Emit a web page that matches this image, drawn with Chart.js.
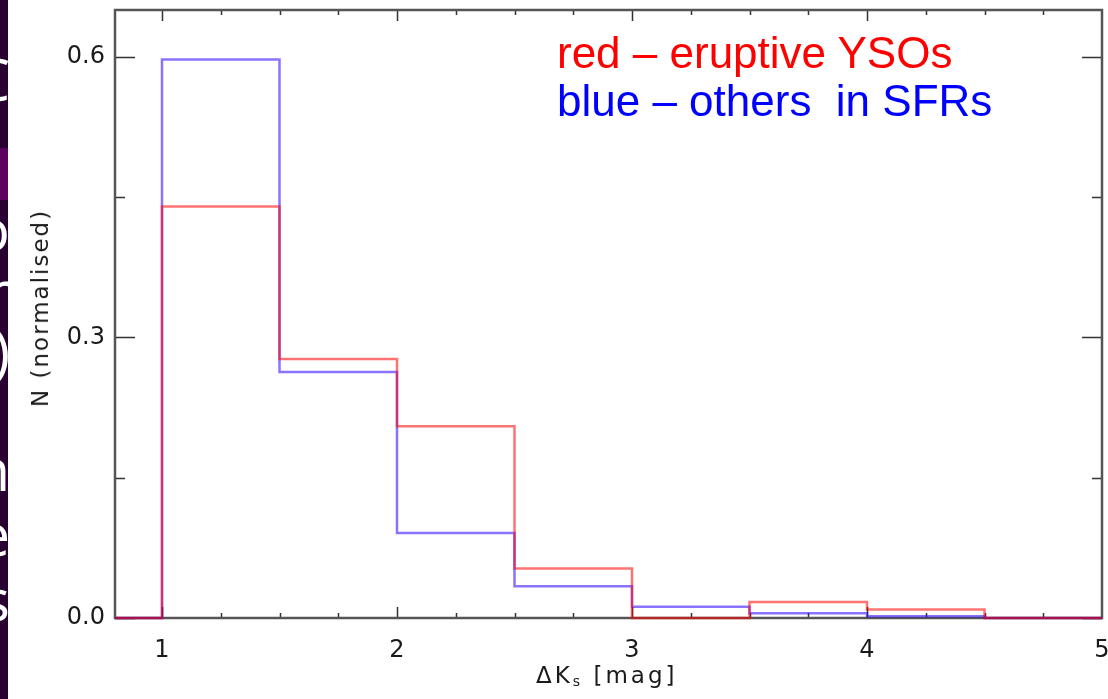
<!DOCTYPE html>
<html>
<head>
<meta charset="utf-8">
<script src="https://cdn.jsdelivr.net/npm/chart.js@4/dist/chart.umd.min.js"></script>
<style>
  body { margin: 0; background: #fff; }
  #wrap { position: relative; width: 1108px; height: 699px; overflow: hidden; }
  #strip { position: absolute; left: 0; top: 0; width: 8px; height: 699px; background: #2a0032; overflow: hidden; }
  #band { position: absolute; left: 0; top: 148px; width: 8px; height: 52px; background: #5e005f; }
  .frag { position: absolute; right: -2px; color: #fff; font-family: "Open Sans", sans-serif; font-size: 58px; line-height: 1; }
  .legend { position: absolute; left: 557px; font-family: "Liberation Sans", Arial, sans-serif; font-size: 44px; line-height: 48px; white-space: pre; }
  #xtitle { position: absolute; left: 536px; top: 662px; font-family: "DejaVu Sans", sans-serif; font-size: 23px; color: #1a1a1a; letter-spacing: 3px; white-space: pre; }
  #xtitle sub { font-size: 14px; vertical-align: -3px; }
  #ytitle { position: absolute; left: 40px; top: 308px; transform: translate(-50%, -50%) rotate(-90deg); font-family: "DejaVu Sans", sans-serif; font-size: 23px; color: #1a1a1a; letter-spacing: 2px; white-space: pre; }
</style>
</head>
<body>
<div id="wrap">
  <canvas id="histChart" width="1108" height="699"></canvas>
  <div id="strip">
    <div id="band"></div>
    <span class="frag" style="top:50px">C</span>
    <span class="frag" style="top:200px">o</span>
    <span class="frag" style="top:262px">r</span>
    <span class="frag" style="top:322px">)</span>
    <span class="frag" style="top:440px">n</span>
    <span class="frag" style="top:505px">e</span>
    <span class="frag" style="top:570px">s</span>
  </div>
  <div class="legend" style="top:29px; color:#ff0000">red – eruptive YSOs</div>
  <div class="legend" style="top:77px; color:#0000ff">blue – others  in SFRs</div>
  <div id="xtitle">ΔK<sub>s</sub> [mag]</div>
  <div id="ytitle">N (normalised)</div>
</div>
<script>
// bin left edges (the last entry closes the final bin)
const binEdges = [0.8, 1, 1.5, 2, 2.5, 3, 3.5, 4, 4.5, 5];
const eruptive = [0, 0.44, 0.277, 0.205, 0.053, 0, 0.017, 0.009, 0, 0];
const others = [0, 0.597, 0.263, 0.091, 0.034, 0.012, 0.005, 0.002, 0, 0];

const xTickLabels = [1, 2, 3, 4, 5];
const xMinorTicks = [1, 1.25, 1.5, 1.75, 2, 2.25, 2.5, 2.75, 3, 3.25, 3.5, 3.75, 4, 4.25, 4.5, 4.75];
const yTickLabels = [0, 0.3, 0.6];
const yMinorTicks = [0, 0.15, 0.3, 0.45, 0.6];

function toPoints(values) {
    return binEdges.map((x, i) => ({ x: x, y: values[i] }));
}

// no label overflow padding, the plot box is fixed by layout.padding
function noPadding(s) {
    s.paddingTop = 0;
    s.paddingBottom = 0;
    s.paddingLeft = 0;
    s.paddingRight = 0;
}

// IDL style box with inward ticks on all four sides
const framePlugin = {
    id: 'frame',
    beforeDatasetsDraw(chart) {
        const ctx = chart.ctx;
        const area = chart.chartArea;
        const xs = chart.scales.x;
        const ys = chart.scales.y;

        ctx.save();
        ctx.strokeStyle = '#333';
        ctx.lineWidth = 1.5;
        ctx.beginPath();
        xMinorTicks.forEach(v => {
            const px = Math.round(xs.getPixelForValue(v)) + 0.5;
            const len = xTickLabels.includes(v) ? 11 : 5;
            ctx.moveTo(px, area.bottom);
            ctx.lineTo(px, area.bottom - len);
            ctx.moveTo(px, area.top);
            ctx.lineTo(px, area.top + len);
        });
        yMinorTicks.forEach(v => {
            const py = Math.round(ys.getPixelForValue(v)) + 0.5;
            const len = yTickLabels.includes(v) ? 20 : 10;
            ctx.moveTo(area.left, py);
            ctx.lineTo(area.left + len, py);
            ctx.moveTo(area.right, py);
            ctx.lineTo(area.right - len, py);
        });
        ctx.stroke();

        ctx.strokeStyle = '#555';
        ctx.lineWidth = 2.5;
        ctx.strokeRect(area.left, area.top, area.right - area.left, area.bottom - area.top);
        ctx.restore();
    }
};

function initHistChart() {
    const ctx = document.getElementById('histChart').getContext('2d');

    const data = {
        datasets: [
            {
                label: 'red – eruptive YSOs',
                data: toPoints(eruptive),
                borderColor: 'rgba(255, 0, 0, 0.55)',
                borderWidth: 2.5,
                stepped: 'before',
                pointRadius: 0,
                fill: false,
                clip: 4
            },
            {
                label: 'blue – others in SFRs',
                data: toPoints(others),
                borderColor: 'rgba(40, 0, 255, 0.55)',
                borderWidth: 2.5,
                stepped: 'before',
                pointRadius: 0,
                fill: false,
                clip: 4
            }
        ]
    };

    const tickFont = { family: '"DejaVu Sans", sans-serif', size: 24 };

    const config = {
        type: 'line',
        data: data,
        options: {
            responsive: false,
            animation: false,
            layout: { padding: { left: 0, top: 10, right: 6, bottom: 0 } },
            plugins: {
                legend: { display: false },
                tooltip: { enabled: false }
            },
            scales: {
                x: {
                    type: 'linear',
                    min: 0.8,
                    max: 5,
                    grid: { display: false, drawTicks: false },
                    border: { display: false },
                    afterBuildTicks: s => { s.ticks = xTickLabels.map(v => ({ value: v })); },
                    afterFit: s => { s.height = 81; noPadding(s); },
                    ticks: {
                        color: '#1a1a1a',
                        font: tickFont,
                        padding: 18,
                        maxRotation: 0,
                        callback: v => String(v)
                    }
                },
                y: {
                    type: 'linear',
                    min: 0,
                    max: 0.65,
                    grid: { display: false, drawTicks: false },
                    border: { display: false },
                    afterBuildTicks: s => { s.ticks = yTickLabels.map(v => ({ value: v })); },
                    afterFit: s => { s.width = 115; noPadding(s); },
                    ticks: {
                        color: '#1a1a1a',
                        font: tickFont,
                        padding: 10,
                        callback: v => v.toFixed(1)
                    }
                }
            }
        },
        plugins: [framePlugin]
    };

    new Chart(ctx, config);
}

document.addEventListener('DOMContentLoaded', () => {
    initHistChart();
});
</script>
</body>
</html>
